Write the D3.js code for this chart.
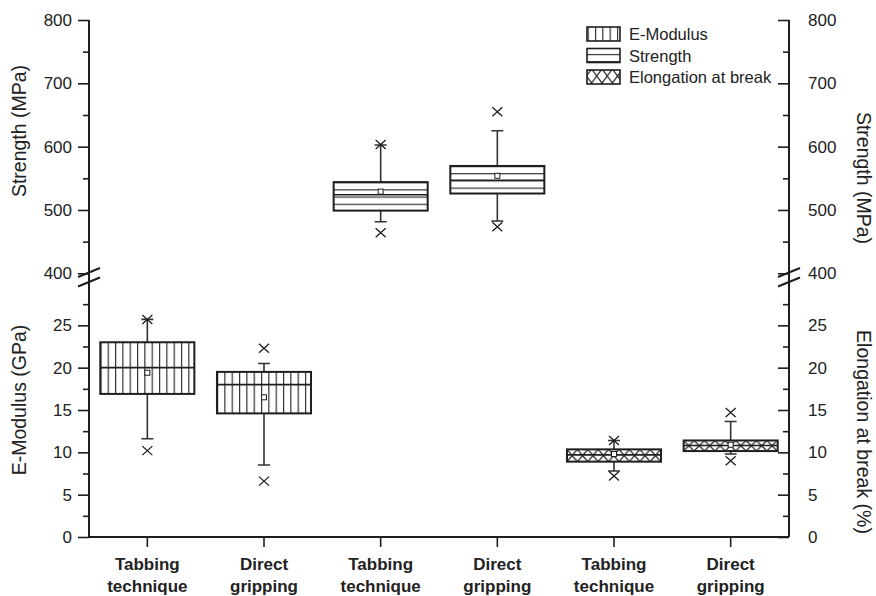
<!DOCTYPE html>
<html>
<head>
<meta charset="utf-8">
<script src="https://cdn.jsdelivr.net/npm/d3@7"></script>
<style>
  html, body { margin: 0; padding: 0; background: #fff; }
  svg { display: block; font-family: "Liberation Sans", Arial, Helvetica, sans-serif; }
</style>
</head>
<body>
<svg id="chart" width="876" height="596"></svg>
<script>
// ---- data -------------------------------------------------------------
const categories = [
  "Tabbing technique", "Direct gripping",
  "Tabbing technique", "Direct gripping",
  "Tabbing technique", "Direct gripping"
];
const seriesNames = ["E-Modulus", "Strength", "Elongation at break"];

// box statistics: lo/hi = whisker ends, min/max = extreme markers
const eModulusStats = [   // GPa
  { lo: 11.6, q1: 16.9, median: 20.0, q3: 23.0, hi: 25.7, mean: 19.4, min: 10.2, max: 25.7 },
  { lo: 8.5,  q1: 14.6, median: 18.0, q3: 19.5, hi: 20.5, mean: 16.5, min: 6.6,  max: 22.3 }
];
const strengthStats = [   // MPa
  { lo: 481.5, q1: 499, median: 524, q3: 544,   hi: 602.6, mean: 529, min: 464,   max: 603.5 },
  { lo: 482.5, q1: 526, median: 547, q3: 569.5, hi: 625,   mean: 554, min: 473.6, max: 655 }
];
const elongationStats = [ // %
  { lo: 7.8, q1: 8.9,  median: 9.7,  q3: 10.35, hi: 11.4,  mean: 9.8,  min: 7.2, max: 11.4 },
  { lo: 9.8, q1: 10.15, median: 10.8, q3: 11.4, hi: 13.65, mean: 10.9, min: 9.0, max: 14.7 }
];

const strengthTicks = [400, 500, 600, 700, 800];
const strengthMinorTicks = [450, 550, 650, 750];
const lowerTicks = [0, 5, 10, 15, 20, 25];
const lowerMinorTicks = [2.5, 7.5, 12.5, 17.5, 22.5, 27.5];

// ---- layout -----------------------------------------------------------
const svg = d3.select("#chart");
const ink = "#1e1e1e";
const plot = { left: 89, right: 789, top: 20, bottom: 537, breakTop: 273.3, breakBottom: 283 };

const x = d3.scaleBand().domain(d3.range(categories.length)).range([plot.left, plot.right]);
const yStrength = d3.scaleLinear().domain([400, 800]).range([plot.breakTop, plot.top]);
const yLower = d3.scaleLinear().domain([0, 30]).range([plot.bottom, plot.breakBottom]);
const boxWidth = x.bandwidth() * 0.806;
const capWidth = 12;

const defs = svg.append("defs");

// hatch pattern anchored to one box so the lines start at its edges
function makePattern(id, kind, bx, by, bh) {
  const w = kind === "v" ? 7.33 : kind === "h" ? 12 : 10.4;
  const h = kind === "v" ? 12 : kind === "h" ? 7.2 : bh;
  const p = defs.append("pattern").attr("id", id)
    .attr("patternUnits", "userSpaceOnUse")
    .attr("x", bx).attr("y", by).attr("width", w).attr("height", h);
  p.append("rect").attr("width", w).attr("height", h).attr("fill", "#fff");
  const d = kind === "v" ? `M0.6,0V${h}`
          : kind === "h" ? `M0,0.6H${w}`
          : `M0,0L${w},${h}M${w},0L0,${h}`;
  p.append("path").attr("d", d).attr("stroke", ink).attr("stroke-width", kind === "x" ? 1.2 : 1.1).attr("fill", "none");
  return `url(#${id})`;
}

function drawCross(g, cx, cy) {
  g.append("path")
    .attr("d", `M${cx - 5},${cy - 4.5}L${cx + 5},${cy + 4.5}M${cx + 5},${cy - 4.5}L${cx - 5},${cy + 4.5}`)
    .attr("stroke", ink).attr("stroke-width", 1.3).attr("fill", "none");
}

function drawBoxes(stats, offset, y, kind, key) {
  const g = svg.append("g").attr("class", "boxes-" + key);
  stats.forEach((d, i) => {
    const cx = x(i + offset) + x.bandwidth() / 2;
    const bx = cx - boxWidth / 2;
    const top = y(d.q3), bot = y(d.q1);

    // whiskers and caps
    g.append("path")
      .attr("d", `M${cx},${top}V${y(d.hi)}M${cx - capWidth / 2},${y(d.hi)}H${cx + capWidth / 2}` +
                 `M${cx},${bot}V${y(d.lo)}M${cx - capWidth / 2},${y(d.lo)}H${cx + capWidth / 2}`)
      .attr("stroke", "#333").attr("stroke-width", 1.6).attr("fill", "none");

    // box
    const fill = makePattern(`pat-${key}-${i}`, kind, bx, top, bot - top);
    g.append("rect")
      .attr("x", bx).attr("y", top).attr("width", boxWidth).attr("height", bot - top)
      .attr("fill", fill).attr("stroke", ink).attr("stroke-width", 2);

    // median
    g.append("line")
      .attr("x1", bx).attr("x2", bx + boxWidth)
      .attr("y1", y(d.median)).attr("y2", y(d.median))
      .attr("stroke", ink).attr("stroke-width", 1.6);

    // mean
    g.append("rect")
      .attr("x", cx - 2.5).attr("y", y(d.mean) - 2.5).attr("width", 5).attr("height", 5)
      .attr("fill", "#fff").attr("stroke", ink).attr("stroke-width", 1);

    // extremes
    drawCross(g, cx, y(d.min));
    drawCross(g, cx, y(d.max));
  });
}

drawBoxes(eModulusStats, 0, yLower, "v", "emod");
drawBoxes(strengthStats, 2, yStrength, "h", "str");
drawBoxes(elongationStats, 4, yLower, "x", "elong");

// ---- axes -------------------------------------------------------------
function styleAxis(g) {
  g.select(".domain").remove();
  g.selectAll(".tick line").attr("stroke", ink).attr("stroke-width", 1.6);
  g.selectAll(".tick text").attr("fill", "#222").style("font-size", "17px");
}

// left
svg.append("g").attr("transform", `translate(${plot.left},0)`)
  .call(d3.axisLeft(yStrength).tickValues(strengthTicks).tickSize(11).tickPadding(6)).call(styleAxis);
svg.append("g").attr("transform", `translate(${plot.left},0)`)
  .call(d3.axisLeft(yStrength).tickValues(strengthMinorTicks).tickSize(6).tickFormat("")).call(styleAxis);
svg.append("g").attr("transform", `translate(${plot.left},0)`)
  .call(d3.axisLeft(yLower).tickValues(lowerTicks).tickSize(11).tickPadding(6)).call(styleAxis);
svg.append("g").attr("transform", `translate(${plot.left},0)`)
  .call(d3.axisLeft(yLower).tickValues(lowerMinorTicks).tickSize(6).tickFormat("")).call(styleAxis);

// right (ticks point inward)
svg.append("g").attr("transform", `translate(${plot.right},0)`)
  .call(d3.axisRight(yStrength).tickValues(strengthTicks).tickSize(-11).tickPadding(19)).call(styleAxis);
svg.append("g").attr("transform", `translate(${plot.right},0)`)
  .call(d3.axisRight(yStrength).tickValues(strengthMinorTicks).tickSize(-6).tickFormat("")).call(styleAxis);
svg.append("g").attr("transform", `translate(${plot.right},0)`)
  .call(d3.axisRight(yLower).tickValues(lowerTicks).tickSize(-11).tickPadding(19)).call(styleAxis);
svg.append("g").attr("transform", `translate(${plot.right},0)`)
  .call(d3.axisRight(yLower).tickValues(lowerMinorTicks).tickSize(-6).tickFormat("")).call(styleAxis);

// bottom
const xAxis = svg.append("g").attr("transform", `translate(0,${plot.bottom})`)
  .call(d3.axisBottom(x).tickSize(10).tickFormat("")).call(styleAxis);
xAxis.selectAll(".tick").each(function (i) {
  const words = categories[i].split(" ");
  const t = d3.select(this).append("text")
    .attr("text-anchor", "middle").attr("fill", "#222")
    .style("font-size", "17px").style("font-weight", "bold");
  words.forEach((w, k) => t.append("tspan").attr("x", 0).attr("y", 33 + k * 21.5).text(w));
});

// axis lines with break marks
const frame = svg.append("g").attr("stroke", ink).attr("fill", "none");
[plot.left, plot.right].forEach(ax => {
  frame.append("line").attr("x1", ax).attr("x2", ax).attr("y1", plot.top).attr("y2", plot.bottom).attr("stroke-width", 2);
  [272.5, 282].forEach(yc => {
    frame.append("line")
      .attr("x1", ax - 11).attr("y1", yc + 4.5).attr("x2", ax + 11).attr("y2", yc - 4.5)
      .attr("stroke-width", 2);
  });
});
frame.append("line").attr("x1", plot.left).attr("x2", plot.right)
  .attr("y1", plot.bottom).attr("y2", plot.bottom).attr("stroke-width", 2);

// axis titles
const titles = [
  { text: "Strength (MPa)", x: 18.5, y: 131, rot: -90 },
  { text: "E-Modulus (GPa)", x: 18.5, y: 400, rot: -90 },
  { text: "Strength (MPa)", x: 864, y: 178, rot: 90 },
  { text: "Elongation at break (%)", x: 864, y: 432, rot: 90 }
];
svg.append("g").selectAll("text").data(titles).join("text")
  .attr("transform", d => `translate(${d.x},${d.y}) rotate(${d.rot})`)
  .attr("text-anchor", "middle").attr("dominant-baseline", "central")
  .attr("fill", "#222").style("font-size", "19.5px")
  .text(d => d.text);

// ---- legend -----------------------------------------------------------
const legend = svg.append("g").attr("transform", "translate(587,27)");
const legendKinds = ["v", "h", "x"];
seriesNames.forEach((name, i) => {
  const ly = i * 21.5;
  const fill = makePattern(`pat-legend-${i}`, legendKinds[i], 587, 27 + ly, legendKinds[i] === "x" ? 14 : 14);
  legend.append("rect")
    .attr("x", 0).attr("y", ly).attr("width", 33).attr("height", 14)
    .attr("fill", fill).attr("stroke", ink).attr("stroke-width", 1.6);
  legend.append("text")
    .attr("x", 42).attr("y", ly + 13)
    .attr("fill", "#222").style("font-size", "16.5px")
    .text(name);
});
</script>
</body>
</html>
